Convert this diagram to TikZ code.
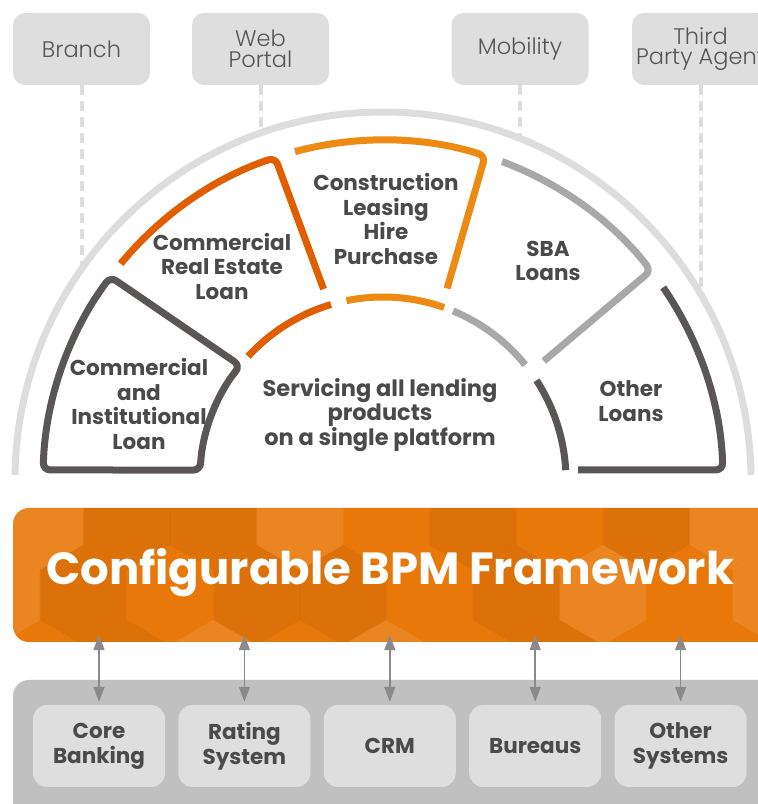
\documentclass[tikz,border=0pt]{standalone}
\usepackage{fontspec}
\setmainfont{Poppins}
\IfFontExistsTF{Poppins Light}{\newfontfamily\lightfont{Poppins Light}}{\newfontfamily\lightfont{Poppins}}
\usetikzlibrary{calc,arrows.meta,positioning}
\definecolor{segdark}{HTML}{5A5655}
\definecolor{segrust}{HTML}{E05D00}
\definecolor{segorange}{HTML}{EC8A13}
\definecolor{seglight}{HTML}{A8A8A8}
\definecolor{ringgray}{HTML}{DDDDDD}
\definecolor{labeltext}{HTML}{4A4A4A}
\definecolor{boxgray}{HTML}{DEDEDE}
\definecolor{chantext}{HTML}{555555}
\definecolor{bandorange}{HTML}{E8780A}
\definecolor{sysgray}{HTML}{C0C0C0}
\definecolor{arrowgray}{HTML}{8A8A8A}
\tikzset{
  segline/.style={line width=7pt, rounded corners=7pt},
  ring/.style={draw=ringgray, line width=7pt},
  feed/.style={draw=ringgray, line width=4pt, dash pattern=on 10pt off 6pt},
  channel/.style={fill=boxgray, rounded corners=12pt, minimum width=137pt, minimum height=72pt,
    text=chantext, align=center, inner sep=0pt, font=\lightfont\fontsize{22.5}{20.5}\selectfont},
  seglabel/.style={text=labeltext, align=center, inner sep=0pt, font=\bfseries\fontsize{21.5}{24.5}\selectfont},
  bandbox/.style={fill=bandorange, rounded corners=16pt, minimum width=777pt, minimum height=134pt, inner sep=0pt},
  fwtitle/.style={text=white, inner sep=0pt, font=\bfseries\fontsize{45}{45}\selectfont},
  sysband/.style={fill=sysgray, rounded corners=16pt, minimum width=777pt, minimum height=164pt, inner sep=0pt},
  sysbox/.style={fill=boxgray, rounded corners=14pt, minimum width=132pt, minimum height=82pt,
    text=labeltext, align=center, inner sep=0pt, font=\bfseries\fontsize{21.5}{25}\selectfont},
  link/.style={{Triangle[length=15pt,width=11pt]}-{Triangle[length=15pt,width=11pt]}, draw=arrowgray, line width=1.5pt},
  hexdark/.style={fill=black, fill opacity=0.05},
  hexlight/.style={fill=white, fill opacity=0.10}
}
\begin{document}
\begin{tikzpicture}[x=1pt, y=1pt]
  \path[use as bounding box] (0,0) rectangle (758,804);
  \clip (0,0) rectangle (758,804);

  % channels
  \node[channel] (branch) at (81.5,755) {Branch};
  \node[channel] (portal) at (260.5,755) {Web\\Portal};
  \node[channel] (mobility) at (520,755) {Mobility};
  \node[channel] (agent) at (700.5,755) {Third\\Party Agent};
  \coordinate (branchfoot) at (81.5,536);
  \coordinate (portalfoot) at (260.5,671);
  \coordinate (mobilityfoot) at (520,666);
  \coordinate (agentfoot) at (700.5,511);
  \draw[feed] (branch) -- (branchfoot);
  \draw[feed] (portal) -- (portalfoot);
  \draw[feed] (mobility) -- (mobilityfoot);
  \draw[feed] (agent) -- (agentfoot);

  % lending products
  \begin{scope}[shift={(383,324)}]
    \draw[ring] (179.2:368) arc[start angle=179.2, end angle=0.8, radius=368];
    \draw[segline, draw=segdark] (178.3:340)
      arc[start angle=178.3, end angle=143.3, radius=340] -- (141.3:183)
      arc[start angle=141.3, end angle=176.9, radius=183] -- cycle;
    \draw[segline, draw=segrust] (140.5:340) arc[start angle=140.5, end angle=108.5, radius=340] -- (107.3:200);
    \draw[segline, draw=segrust] (106.5:183) arc[start angle=106.5, end angle=137.5, radius=183];
    \draw[segline, draw=segorange] (105:340) arc[start angle=105, end angle=72.5, radius=340] -- (71.5:202);
    \draw[segline, draw=segorange] (70.5:183) arc[start angle=70.5, end angle=101.5, radius=183];
    \draw[segline, draw=seglight] (69.5:340) arc[start angle=69.5, end angle=38, radius=340] -- (36.5:200);
    \draw[segline, draw=seglight] (39:183) arc[start angle=39, end angle=67.5, radius=183];
    \draw[segline, draw=segdark] (34.5:340) arc[start angle=34.5, end angle=1.7, radius=340] -- (195,10);
    \draw[segline, draw=segdark] (33:183) arc[start angle=33, end angle=3.1, radius=183];
  \end{scope}

  \node[seglabel] (institutional) at (139,400) {Commercial\\and\\Institutional\\Loan};
  \node[seglabel] (realestate) at (222,538) {Commercial\\Real Estate\\Loan};
  \node[seglabel] (leasing) at (386,585) {Construction\\Leasing\\Hire\\Purchase};
  \node[seglabel] (sba) at (548,543) {SBA\\Loans};
  \node[seglabel] (otherloans) at (631,403) {Other\\Loans};
  \node[seglabel, font=\bfseries\fontsize{22.5}{22}\selectfont] (servicing) at (380,389)
    {Servicing all lending\\products\\on a single platform};

  % framework band
  \node[bandbox] (band) at (401.5,229) {};
  \begin{scope}
    \clip[rounded corners=16pt] (band.south west) rectangle (band.north east);
    \foreach \hx/\hy/\hc in {40/284/hexlight, 127/284/hexdark, 213/284/hexdark, 300/284/hexlight,
        473/284/hexdark, 646/284/hexdark, 733/284/hexlight,
        -3/209/hexlight, 83/209/hexdark, 257/209/hexdark, 343/209/hexdark, 516/209/hexdark,
        603/209/hexlight, 776/209/hexlight,
        127/134/hexdark, 213/134/hexlight, 386/134/hexlight, 560/134/hexdark}
      \fill[\hc] (\hx,\hy) +(90:50) -- +(150:50) -- +(210:50) -- +(270:50) -- +(330:50) -- +(30:50) -- cycle;
  \end{scope}
  \node[fwtitle] (fw) at (390,231) {Configurable BPM Framework};

  % systems
  \node[sysband] (systems) at (401.5,42) {};
  \node[sysbox] (core) at (99,58) {Core\\Banking};
  \node[sysbox, right=13pt of core] (rating) {Rating\\System};
  \node[sysbox, right=13pt of rating] (crm) {CRM};
  \node[sysbox, right=13pt of crm] (bureaus) {Bureaus};
  \node[sysbox, right=13pt of bureaus] (othersys) {Other\\Systems};
  \foreach \s in {core,rating,crm,bureaus,othersys}
    \draw[link] ([yshift=7pt]band.south -| \s.north) -- ([yshift=3pt]\s.north);
\end{tikzpicture}
\end{document}
